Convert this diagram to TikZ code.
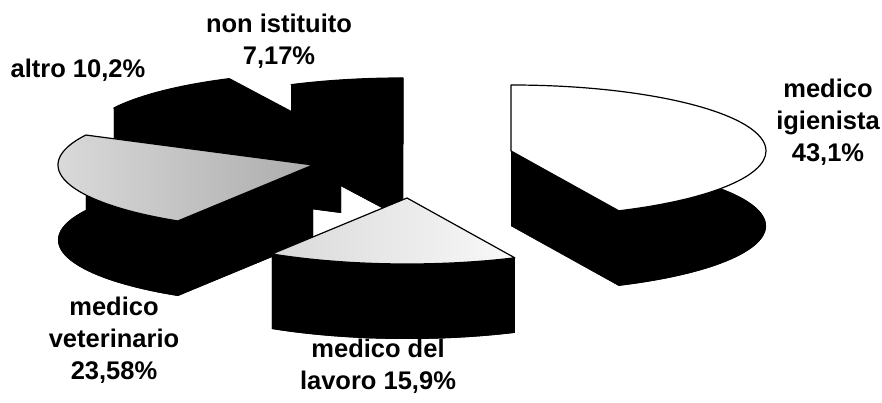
\documentclass[tikz,border=0pt]{standalone}
\usepackage{fontspec}
\setmainfont{Liberation Sans}
\usepackage{tikz}
\usetikzlibrary{calc}
\tikzset{
  pieside/.style={fill=black},
  pietop/.style={draw=black, line width=1.2pt, line join=round},
  lab/.style={font=\fontsize{25.5}{32}\selectfont\bfseries, align=center, inner sep=0pt},
}
% one exploded slice: centre, start angle, end angle, top face options
\newcommand{\pieslice}[4]{%
  \fill[pieside] ([yshift=-75pt]#1) -- ++(#2:255pt and 66pt)
    arc[start angle=#2, end angle=#3, x radius=255pt, y radius=66pt] -- cycle;
  \fill[pieside] (#1) -- ++(#2:255pt and 66pt) -- ++(0pt,-75pt) -- ([yshift=-75pt]#1) -- cycle;
  \fill[pieside] (#1) -- ++(#3:255pt and 66pt) -- ++(0pt,-75pt) -- ([yshift=-75pt]#1) -- cycle;
  \fill[pieside] (#1) ++(#2:255pt and 66pt)
    arc[start angle=#2, end angle=#3, x radius=255pt, y radius=66pt]
    -- ++(0pt,-75pt)
    arc[start angle=#3, end angle=#2, x radius=255pt, y radius=66pt] -- cycle;
  \path[pietop, #4] (#1) -- ++(#2:255pt and 66pt)
    arc[start angle=#2, end angle=#3, x radius=255pt, y radius=66pt] -- cycle;
}

\begin{document}
\begin{tikzpicture}[x=1pt, y=1pt]
\useasboundingbox (0,0) rectangle (882,403);

% slice centres
\coordinate (cNon) at (403,259);
\coordinate (cAltro) at (341,265);
\coordinate (cIg) at (511,252);
\coordinate (cVet) at (313,238);
\coordinate (cLav) at (407,205);

% back to front
\pieslice{cNon}{116}{90}{fill=black}
\pieslice{cAltro}{153}{116}{fill=black}
\pieslice{cIg}{90}{-65}{fill=white}
\pieslice{cVet}{-122}{-207}{left color=gray!25, right color=gray!65}
\pieslice{cLav}{-65}{-122}{left color=gray!30, right color=gray!5}

% labels
\node[lab] (lNon) at (279,362) {non istituito\\7,17\%};
\node[lab] (lAltro) at (78,333) {altro 10,2\%};
\node[lab] (lIg) at (828,281) {medico\\igienista\\43,1\%};
\node[lab] (lVet) at (114,63) {medico\\veterinario\\23,58\%};
\node[lab] (lLav) at (378,37) {medico del\\lavoro 15,9\%};
\end{tikzpicture}
\end{document}
